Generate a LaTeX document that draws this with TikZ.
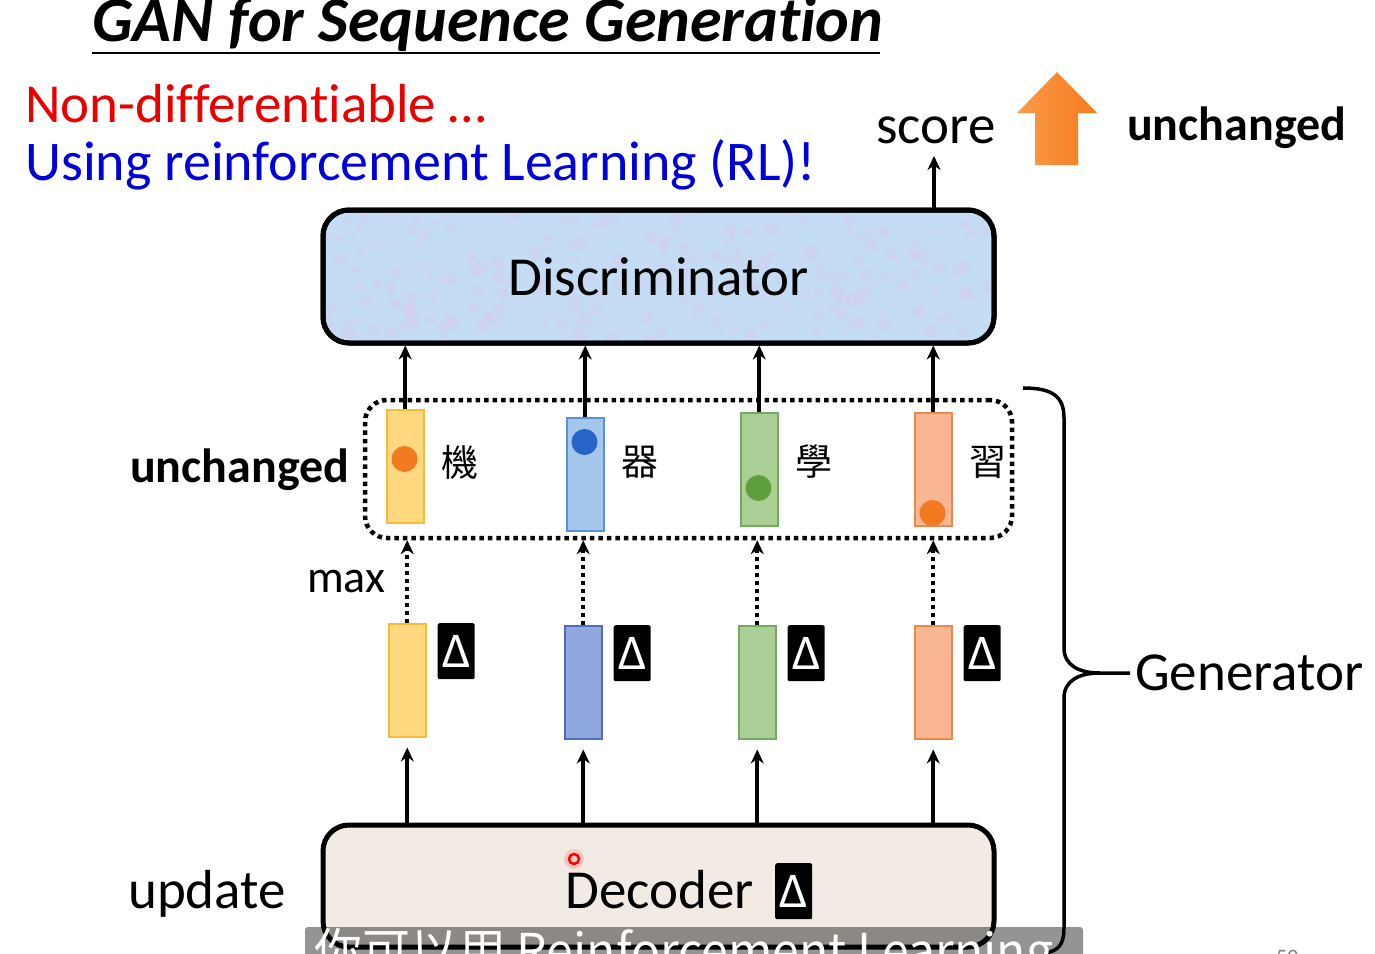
\documentclass[tikz,border=0pt]{standalone}
\usepackage{fontspec}
\setmainfont{Carlito}[Ligatures=NoCommon]
\newfontfamily\cjk{Noto Sans CJK TC}
\usetikzlibrary{positioning, arrows.meta}
\definecolor{vyellow}{RGB}{255,216,128}
\definecolor{vyellowline}{RGB}{245,190,50}
\definecolor{vblue}{RGB}{165,198,235}
\definecolor{vblueline}{RGB}{90,145,215}
\definecolor{vbluedark}{RGB}{145,168,222}
\definecolor{vbluedarkline}{RGB}{75,110,190}
\definecolor{vgreen}{RGB}{170,208,150}
\definecolor{vgreenline}{RGB}{115,170,95}
\definecolor{vorange}{RGB}{249,182,145}
\definecolor{vorangeline}{RGB}{235,135,80}
\definecolor{dorange}{RGB}{242,122,32}
\definecolor{dblue}{RGB}{40,100,200}
\definecolor{dgreen}{RGB}{95,160,60}
\definecolor{discfill}{RGB}{196,220,244}
\definecolor{discspot}{RGB}{222,200,238}
\definecolor{decfill}{RGB}{242,235,228}
\definecolor{nonred}{RGB}{235,0,0}
\definecolor{rlblue}{RGB}{0,0,220}
\newcommand{\fsz}[1]{\fontsize{#1}{#1}\selectfont}

\begin{document}
\begin{tikzpicture}[x=1pt, y=-1pt,
    vecbox/.style={draw=#1line, fill=#1, line width=1.5pt, minimum width=37pt, minimum height=113pt, inner sep=0pt},
    deltabox/.style={fill=black, rounded corners=2pt, minimum width=37pt, minimum height=56pt, inner sep=0pt, text=white, font=\fsz{50}},
    bigbox/.style={draw, line width=5pt, rounded corners=26pt, minimum width=671pt, inner sep=0pt},
    txt/.style={inner sep=0pt, anchor=base west},
    uparrow/.style={-{Stealth[length=14pt, width=13pt]}, line width=4pt},
    dotarrow/.style={-{Stealth[length=14pt, width=13pt]}, line width=4pt, dash pattern=on 4pt off 4pt}]
    \useasboundingbox (0,0) rectangle (1375,953);

    % title and remarks
    \node[txt, font=\fsz{64}\bfseries\itshape] (title) at (92,41) {GAN for Sequence Generation};
    \draw[line width=1.5pt] (92,53) -- (880,53);
    \node[txt, font=\fsz{55}, text=nonred] (nondiff) at (25,122) {Non-differentiable \dots};
    \node[txt, font=\fsz{56}, text=rlblue] (userl) at (25,180) {Using reinforcement Learning (RL)!};

    % discriminator
    \node[bigbox, fill=discfill, minimum height=133pt] (disc) at (658.5,276.5) {};
    \begin{scope}
        \clip[rounded corners=24pt] (326,213) rectangle (991,340);
        \pgfmathsetseed{7}
        \foreach \k in {1,...,260}
            \fill[discspot, opacity=.3] (326+665*rnd, 213+127*rnd) circle (2+5*rnd);
    \end{scope}
    \node[bigbox, minimum height=133pt, font=\fsz{55}] (disctext) at (disc.center) {Discriminator};
    \coordinate (scoretop) at (934,156);
    \draw[uparrow] (disc.north -| scoretop) -- (scoretop);
    \node[txt, font=\fsz{55}] (score) at (876,143) {score};
    \shade[left color={rgb,255:red,250;green,155;blue,75}, right color={rgb,255:red,244;green,122;blue,28}]
        (1035,165) -- (1035,113) -- (1017,113) -- (1057,72) -- (1097,113) -- (1078,113) -- (1078,165) -- cycle;
    \node[txt, font=\fsz{48}\bfseries] (unchtop) at (1127,140) {unchanged};

    % one-hot words
    \node[draw, line width=4.5pt, dash pattern=on 4.5pt off 4pt, rounded corners=22pt, minimum width=647pt, minimum height=138pt] (group) at (688.5,469) {};
    \node[txt, font=\fsz{48}\bfseries] (unchleft) at (130,482) {unchanged};
    \node[txt, font=\fsz{46}] (maxlbl) at (307,592) {max};

    % decoder
    \node[bigbox, fill=decfill, minimum height=122pt] (dec) at (658.5,886) {};
    \node[txt, font=\fsz{55}] (dectext) at (565,908) {Decoder};
    \node[deltabox, anchor=north west] (decdelta) at (775,863) {Δ};
    \fill[red, opacity=.15] (574,859) circle (10);
    \draw[red, line width=2.5pt] (574,859) circle (5);
    \node[txt, font=\fsz{55}] (update) at (128,908) {update};

    % columns
    \foreach \i/\xt/\yt/\xb/\yb/\col/\bcol/\dcol/\dy/\ch in {
        1/386/409/388/623/vyellow/vyellow/dorange/459/機,
        2/566/417/564/625/vblue/vbluedark/dblue/442/器,
        3/740/412/738/625/vgreen/vgreen/dgreen/488/學,
        4/914/412/914/625/vorange/vorange/dorange/513/習}{
        \node[vecbox=\col, anchor=north west] (top\i) at (\xt,\yt) {};
        \node[circle, fill=\dcol, minimum size=26pt, inner sep=0pt] (dot\i) at (\xt+18.5,\dy) {};
        \node[anchor=west, inner sep=0pt, font=\cjk\fsz{37}] (ch\i) at (\xt+55,462) {\ch};
        \node[vecbox=\bcol, anchor=north west] (bot\i) at (\xb,\yb) {};
        \node[deltabox, right=11pt of bot\i.north east, anchor=north west] (delta\i) {Δ};
        \draw[uparrow] (top\i.north) -- (top\i.north |- disc.south);
        \draw[dotarrow] (bot\i.north) -- (bot\i.north |- group.south);
        \draw[uparrow] (bot\i.south |- dec.north) -- ([yshift=-10pt]bot\i.south);
    }

    % generator brace
    \coordinate (bracetip) at (1130,673);
    \draw[line width=3.5pt] (1023,388) .. controls (1052,388) and (1064,396) .. (1064,418) -- (1064,648)
        .. controls (1064,666) and (1080,673) .. (1100,673) -- (bracetip);
    \draw[line width=3.5pt] (1100,673) .. controls (1080,673) and (1064,680) .. (1064,698) -- (1064,928)
        .. controls (1064,945) and (1058,951) .. (1045,953);
    \node[txt, font=\fsz{55}] (gen) at (1135,690) {Generator};

    % subtitle bar and page number
    \begin{scope}
        \clip (0,0) rectangle (1375,953);
        \fill[black, opacity=.42, rounded corners=3pt] (305,927) rectangle (1083,990);
        \node[txt, font=\cjk\fsz{48}, text=white] (subtitle) at (314,968) {你可以用 Reinforcement Learning};
        \node[txt, font=\fsz{22}, text=gray] (pagenum) at (1276,964) {50};
    \end{scope}
\end{tikzpicture}
\end{document}
